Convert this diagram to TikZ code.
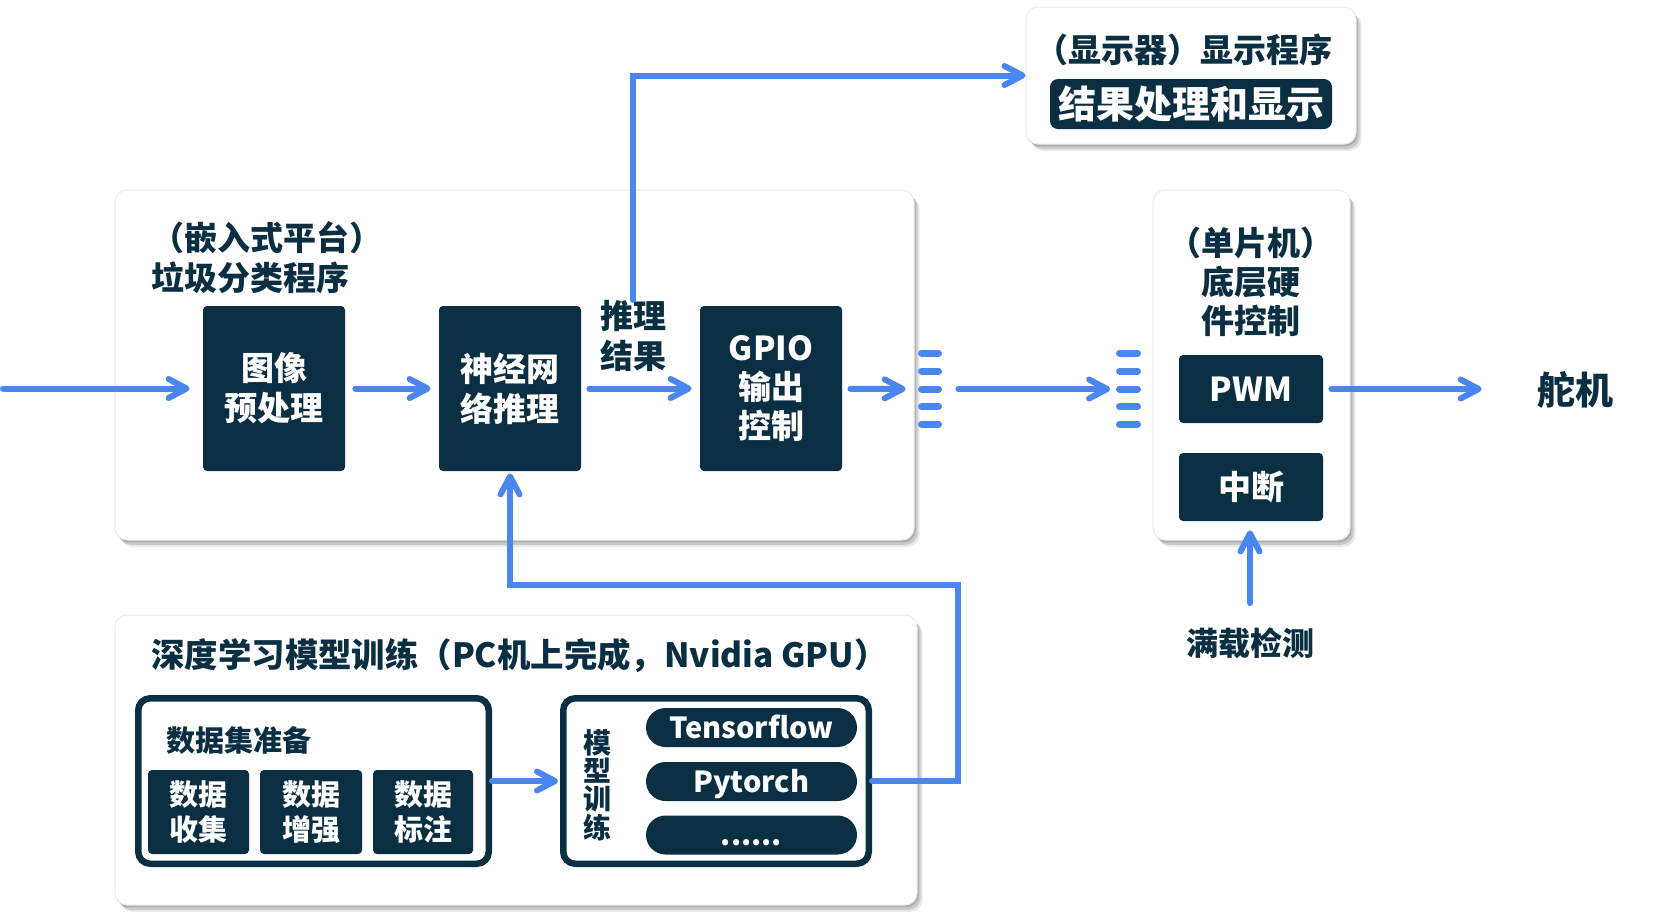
\documentclass[tikz,border=0pt]{standalone}
\usepackage{fontspec}
\setmainfont{Noto Sans CJK SC}
\usetikzlibrary{arrows.meta,shadows}
\definecolor{navy}{RGB}{10,46,66}
\definecolor{flow}{RGB}{74,134,240}
\tikzset{
  fs/.style n args={2}{font=\bfseries\fontsize{#1}{#2}\selectfont},
  softshadow/.style={
    general shadow={shadow xshift=0.8pt,shadow yshift=-1.2pt,fill=black,opacity=.14},
    general shadow={shadow xshift=1.8pt,shadow yshift=-2.4pt,fill=black,opacity=.13},
    general shadow={shadow xshift=2.8pt,shadow yshift=-3.4pt,fill=black,opacity=.09}},
  panel/.style={softshadow,draw=black!8,line width=0.5pt,fill=white,rounded corners=6pt,inner sep=0pt},
  darkbox/.style={fill=navy,text=white,rounded corners=2pt,inner sep=0pt,align=center,fs={16.5pt}{20pt}},
  smallbox/.style={darkbox,fs={14.5pt}{17.5pt},minimum height=42pt},
  pill/.style={fill=navy,text=white,rounded corners=9.75pt,inner sep=0pt,minimum width=105.5pt,minimum height=19.5pt,text height=12pt,text depth=1.4pt,fs={14.5pt}{17pt}},
  frame/.style={draw=navy,line width=3.25pt,fill=white,rounded corners=6pt,inner sep=0pt},
  title/.style={text=navy,inner sep=0pt,fs={16.5pt}{20pt}},
  flowline/.style={draw=flow,line width=3pt,line cap=round,line join=miter},
  flowarrow/.style={flowline,-{Straight Barb[length=9pt,width=9.5pt,line cap=round,line join=round]}},
  dashbar/.style={draw=flow,line width=3.5pt,line cap=round},
  port/.style={inner sep=0pt,minimum width=12pt,minimum height=39.5pt}
}
\begin{document}
\begin{tikzpicture}[x=0.5pt,y=-0.5pt]
\fill[white] (0,0) rectangle (1657,918);
\useasboundingbox (0,0) rectangle (1657,918);

% panels
\node[panel,minimum width=399.5pt,minimum height=175pt] (emb) at (514.5,365) {};
\node[panel,minimum width=165pt,minimum height=68.5pt] (disp) at (1191,75.5) {};
\node[panel,minimum width=98.5pt,minimum height=175pt] (mcu) at (1251.5,365) {};
\node[panel,minimum width=401pt,minimum height=145pt] (train) at (516,760) {};

% embedded platform
\node[title,anchor=west,align=left] (embt) at (151,258) {（嵌入式平台）\\垃圾分类程序};
\node[darkbox,minimum width=71pt,minimum height=82.5pt] (img) at (274,388.5) {图像\\预处理};
\node[darkbox,minimum width=71pt,minimum height=82.5pt] (nn) at (510,388.5) {神经网\\络推理};
\node[darkbox,minimum width=71pt,minimum height=82.5pt,fs={16.5pt}{19.5pt}] (gpio) at (771,388.5) {GPIO\\输出\\控制};
\node[title,align=center] (infer) at (633,336) {推理\\结果};

% display
\node[title] (dispt) at (1184,50) {（显示器）显示程序};
\node[darkbox,rounded corners=4pt,minimum width=141pt,minimum height=25pt,fs={19pt}{22pt}] (res) at (1191,104) {结果处理和显示};

% mcu
\node[title,align=center,fs={16.5pt}{19.5pt}] (mcut) at (1251,282) {（单片机）\\底层硬\\件控制};
\node[darkbox,minimum width=72pt,minimum height=34pt] (pwm) at (1251,389) {PWM};
\node[darkbox,minimum width=72pt,minimum height=34pt] (intr) at (1251,487) {中断};
\node[title,fs={19pt}{22pt}] (servo) at (1575,390) {舵机};
\node[title,fs={16pt}{19pt}] (full) at (1250,643) {满载检测};

% ports
\node[port] (portL) at (930,389) {};
\node[port] (portR) at (1128.5,389) {};
\foreach \yy in {353,371,389,406.5,424}{
  \draw[dashbar] (921.5,\yy) -- (938.5,\yy);
  \draw[dashbar] (1119.5,\yy) -- (1137.5,\yy);
}

% training
\node[title,anchor=west,fs={16.7pt}{19pt}] (traint) at (151,656) {深度学习模型训练（PC机上完成，Nvidia GPU）};
\node[frame,minimum width=175.25pt,minimum height=82.75pt] (prep) at (313.5,781) {};
\node[title,anchor=west,fs={14.5pt}{17pt}] (prept) at (166,740) {数据集准备};
\node[smallbox,minimum width=50.5pt] (collect) at (198.5,812) {数据\\收集};
\node[smallbox,minimum width=51pt] (augment) at (311,812) {数据\\增强};
\node[smallbox,minimum width=50pt] (label) at (423,812) {数据\\标注};
\node[frame,minimum width=152.75pt,minimum height=82.75pt] (model) at (716,781) {};
\node[title,align=center,fs={14pt}{14.2pt}] (modelt) at (597,785) {模\\型\\训\\练};
\node[pill] (tf) at (751.5,727.5) {Tensorflow};
\node[pill] (pt) at (751.5,781.5) {Pytorch};
\node[pill] (etc) at (751.5,835) {......};

% connectors
\coordinate (in) at (3,388.5);
\draw[flowarrow,shorten >=6.5pt] (in) -- (img.west);
\draw[flowarrow,shorten <=5pt,shorten >=4pt] (img) -- (nn);
\draw[flowarrow,shorten <=4pt,shorten >=4pt] (nn) -- (gpio);
\draw[flowarrow,shorten <=4pt,shorten >=6pt] (gpio) -- (portL);
\draw[flowarrow,shorten <=8pt,shorten >=3pt] (portL) -- (portR);
\draw[flowarrow,shorten <=4pt,shorten >=27.5pt] (pwm) -- (servo.west |- pwm.east);
\draw[flowarrow] (infer.north) |- (disp.west);
\draw[flowarrow,shorten <=12pt,shorten >=4.5pt] (full.north) -- (full.north |- intr.south);
\draw[flowarrow,shorten >=1pt] (prep.east) -- (model.west);
\coordinate (fb1) at (958,781);
\coordinate (fb2) at (958,585);
\draw[flowarrow,shorten >=1pt] (model.east) -- (fb1) -- (fb2) -| (nn.south);
\end{tikzpicture}
\end{document}
